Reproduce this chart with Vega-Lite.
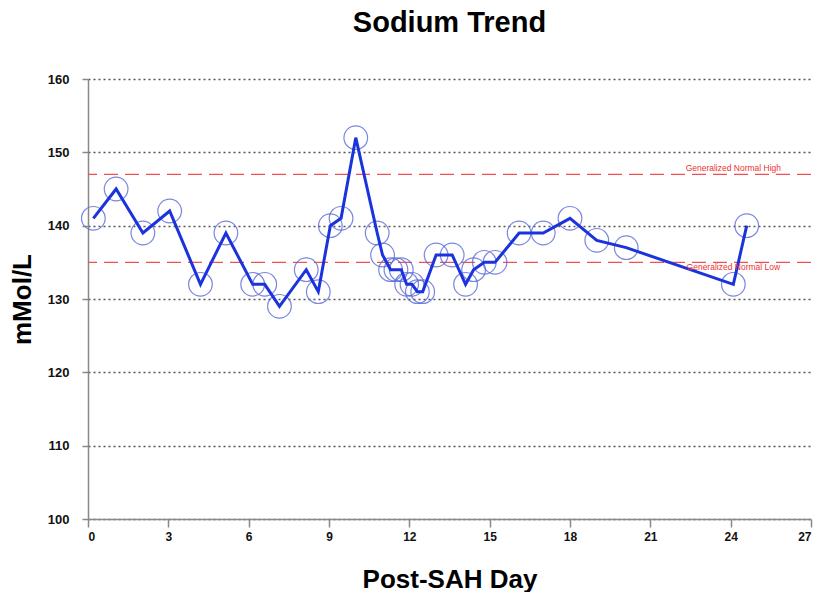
{
  "$schema": "https://vega.github.io/schema/vega-lite/v6.json",
  "width": 723,
  "height": 440,
  "autosize": {"type": "none"},
  "padding": {"left": 88, "top": 79, "right": 2, "bottom": 73},
  "background": "white",
  "title": {
    "text": "Sodium Trend",
    "font": "Liberation Sans",
    "fontSize": 29,
    "fontWeight": "bold",
    "color": "black",
    "anchor": "middle",
    "offset": 35
  },
  "config": {
    "view": {"stroke": null},
    "axis": {
      "labelFont": "Liberation Sans",
      "labelFontWeight": "bold",
      "labelFontSize": 12,
      "labelColor": "#111",
      "titleFont": "Liberation Sans",
      "titleFontWeight": "bold",
      "titleFontSize": 26,
      "titleColor": "black",
      "domainColor": "#888",
      "domainWidth": 1.5,
      "tickColor": "#888",
      "tickWidth": 1.5
    }
  },
  "datasets": {
    "sodium": [
      {"day": 0.2, "value": 141},
      {"day": 1.05, "value": 145},
      {"day": 2.05, "value": 139},
      {"day": 3.05, "value": 142},
      {"day": 4.2, "value": 132},
      {"day": 5.15, "value": 139},
      {"day": 6.15, "value": 132},
      {"day": 6.6, "value": 132},
      {"day": 7.15, "value": 129},
      {"day": 8.15, "value": 134},
      {"day": 8.6, "value": 131},
      {"day": 9.05, "value": 140},
      {"day": 9.45, "value": 141},
      {"day": 10.0, "value": 152},
      {"day": 10.8, "value": 139},
      {"day": 11.0, "value": 136},
      {"day": 11.3, "value": 134},
      {"day": 11.5, "value": 134},
      {"day": 11.7, "value": 134},
      {"day": 11.9, "value": 132},
      {"day": 12.1, "value": 132},
      {"day": 12.3, "value": 131},
      {"day": 12.5, "value": 131},
      {"day": 13.0, "value": 136},
      {"day": 13.6, "value": 136},
      {"day": 14.1, "value": 132},
      {"day": 14.4, "value": 134},
      {"day": 14.8, "value": 135},
      {"day": 15.2, "value": 135},
      {"day": 16.1, "value": 139},
      {"day": 17.0, "value": 139},
      {"day": 18.0, "value": 141},
      {"day": 19.0, "value": 138},
      {"day": 20.1, "value": 137},
      {"day": 24.1, "value": 132},
      {"day": 24.6, "value": 140}
    ],
    "normals": [
      {"value": 147, "label": "Generalized Normal High"},
      {"value": 135, "label": "Generalized Normal Low"}
    ]
  },
  "layer": [
    {
      "data": {"name": "normals"},
      "mark": {"type": "rule", "color": "#f05050", "strokeWidth": 1.2, "strokeDash": [14, 7]},
      "encoding": {
        "y": {"field": "value", "type": "quantitative", "scale": {"domain": [100, 160]}}
      }
    },
    {
      "data": {"name": "sodium"},
      "mark": {"type": "point", "filled": false, "size": 560, "strokeWidth": 1.2, "color": "#5a6ad8", "opacity": 0.8},
      "encoding": {
        "x": {
          "field": "day", "type": "quantitative",
          "scale": {"domain": [0, 27], "nice": false},
          "axis": {
            "title": "Post-SAH Day",
            "values": [0, 3, 6, 9, 12, 15, 18, 21, 24, 27],
            "grid": false,
            "tickSize": 8,
            "labelPadding": 4,
            "titlePadding": 24
          }
        },
        "y": {
          "field": "value", "type": "quantitative",
          "scale": {"domain": [100, 160], "nice": false, "zero": false},
          "axis": {
            "title": "mMol/L",
            "values": [100, 110, 120, 130, 140, 150, 160],
            "grid": true,
            "gridColor": "#555",
            "gridDash": [2, 3],
            "gridWidth": 1.3,
            "tickSize": 6,
            "labelPadding": 13,
            "labelFontSize": 13,
            "titlePadding": 12
          }
        }
      }
    },
    {
      "data": {"name": "sodium"},
      "mark": {"type": "line", "color": "#1a33dd", "strokeWidth": 3},
      "encoding": {
        "x": {"field": "day", "type": "quantitative"},
        "y": {"field": "value", "type": "quantitative"}
      }
    },
    {
      "data": {"values": [{"value": 147, "label": "Generalized Normal High"}]},
      "mark": {"type": "text", "color": "#f03030", "fontSize": 8.5, "font": "Liberation Sans", "baseline": "bottom", "dy": -1},
      "encoding": {
        "x": {"datum": 24.1, "type": "quantitative"},
        "y": {"field": "value", "type": "quantitative"},
        "text": {"field": "label"}
      }
    },
    {
      "data": {"values": [{"value": 135, "label": "Generalized Normal Low"}]},
      "mark": {"type": "text", "color": "#f03030", "fontSize": 8.5, "font": "Liberation Sans", "baseline": "top", "dy": 1},
      "encoding": {
        "x": {"datum": 24.1, "type": "quantitative"},
        "y": {"field": "value", "type": "quantitative"},
        "text": {"field": "label"}
      }
    }
  ]
}
